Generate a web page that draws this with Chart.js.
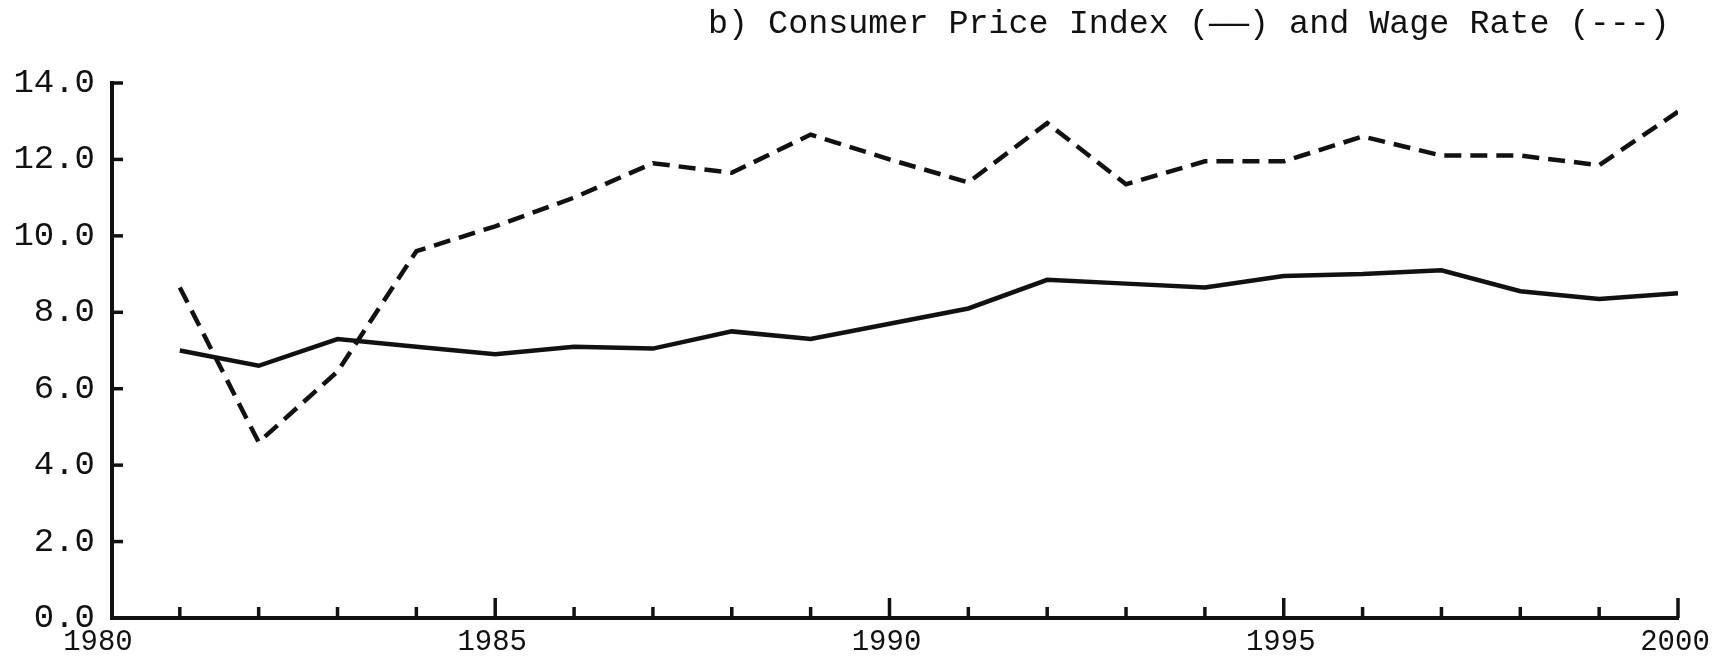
<!DOCTYPE html>
<html>
<head>
<meta charset="utf-8">
<script src="https://cdn.jsdelivr.net/npm/chart.js@4"></script>
<style>
  body { margin: 0; background: #fff; }
  #wrap { position: relative; width: 1714px; height: 670px; }
  #judul {
    position: absolute; left: 708px; top: 7px;
    font-family: "Liberation Mono", monospace; font-size: 33.4px; line-height: 34px;
    color: #111; white-space: pre;
  }
</style>
</head>
<body>
<div id="wrap">
  <div id="judul">b) Consumer Price Index (——) and Wage Rate (---)</div>
  <canvas id="lineChart" width="1714" height="670"></canvas>
</div>
<script>
const years = [1981, 1982, 1983, 1984, 1985, 1986, 1987, 1988, 1989, 1990,
               1991, 1992, 1993, 1994, 1995, 1996, 1997, 1998, 1999, 2000];
const cpi  = [7.0, 6.6, 7.3, 7.1, 6.9, 7.1, 7.05, 7.5, 7.3, 7.7,
              8.1, 8.85, 8.75, 8.65, 8.95, 9.0, 9.1, 8.55, 8.35, 8.5];
const wage = [8.65, 4.6, 6.45, 9.6, 10.25, 11.0, 11.9, 11.65, 12.65, 12.0,
              11.4, 12.95, 11.35, 11.95, 11.95, 12.6, 12.1, 12.1, 11.85, 13.25];
const yTicks = [0, 2, 4, 6, 8, 10, 12, 14];
const xTicks = [1980].concat(years);
const xLabels = [1980, 1985, 1990, 1995, 2000];

const ink = '#111';

// tick marks pointing into the plot, long ones every 5 years
const inwardTicks = {
    id: 'inwardTicks',
    afterDraw(chart) {
        const ctx = chart.ctx;
        const x = chart.scales.x, y = chart.scales.y;
        ctx.save();
        ctx.strokeStyle = ink;
        ctx.lineWidth = 3.5;
        x.ticks.forEach(t => {
            const px = x.getPixelForValue(t.value);
            if (px < x.left + 5) return;
            const len = xLabels.includes(t.value) ? 20 : 11;
            ctx.beginPath();
            ctx.moveTo(px, y.bottom);
            ctx.lineTo(px, y.bottom - len);
            ctx.stroke();
        });
        y.ticks.forEach(t => {
            if (t.value === y.min) return;
            const py = y.getPixelForValue(t.value);
            ctx.beginPath();
            ctx.moveTo(x.left, py);
            ctx.lineTo(x.left + 11, py);
            ctx.stroke();
        });
        ctx.restore();
    }
};

const lineChart = new Chart(document.getElementById('lineChart'), {
    type: 'line',
    data: {
        datasets: [
            { label: 'Consumer Price Index', data: years.map((yr, i) => ({ x: yr, y: cpi[i] })),
              borderColor: ink, borderWidth: 4.5, pointRadius: 0, tension: 0 },
            { label: 'Wage Rate', data: years.map((yr, i) => ({ x: yr, y: wage[i] })),
              borderColor: ink, borderWidth: 4.5, borderDash: [17, 9], pointRadius: 0, tension: 0 }
        ]
    },
    options: {
        responsive: false,
        animation: false,
        layout: { padding: { left: 0, right: 36, top: 83, bottom: 0 } },
        plugins: { legend: { display: false }, tooltip: { enabled: false } },
        scales: {
            x: {
                type: 'linear', min: 1980.14, max: 2000,
                afterBuildTicks: s => { s.ticks = xTicks.map(v => ({ value: v })); },
                afterFit: s => { s.height = 52; s.paddingLeft = 0; s.paddingRight = 0; },
                grid: { drawOnChartArea: false, drawTicks: false },
                border: { color: ink, width: 4 },
                ticks: {
                    autoSkip: false, maxRotation: 0, padding: 7, labelOffset: -3,
                    color: ink, font: { family: 'Liberation Mono', size: 29 },
                    callback: v => xLabels.includes(v) ? String(v) : ''
                }
            },
            y: {
                min: 0, max: 14,
                afterBuildTicks: s => { s.ticks = yTicks.map(v => ({ value: v })); },
                afterFit: s => { s.width = 112; s.paddingTop = 0; s.paddingBottom = 0; },
                grid: { drawOnChartArea: false, drawTicks: false },
                border: { color: ink, width: 4 },
                ticks: {
                    padding: 17, color: ink, font: { family: 'Liberation Mono', size: 34 },
                    callback: v => v.toFixed(1)
                }
            }
        }
    },
    plugins: [inwardTicks]
});
</script>
</body>
</html>
